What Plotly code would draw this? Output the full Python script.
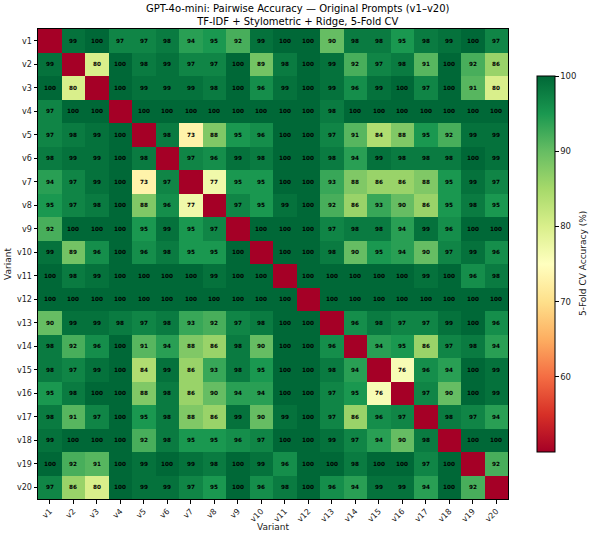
import plotly.graph_objects as go

variants = [f"v{i}" for i in range(1, 21)]

# Pairwise 5-fold CV accuracy (%), diagonal = None
acc = [
    [None, 99, 100, 97, 97, 98, 94, 95, 92, 99, 100, 100, 90, 98, 98, 95, 98, 99, 100, 97],
    [99, None, 80, 100, 98, 99, 97, 97, 100, 89, 98, 100, 99, 92, 97, 98, 91, 100, 92, 86],
    [100, 80, None, 100, 99, 99, 99, 98, 100, 96, 99, 100, 99, 96, 99, 100, 97, 100, 91, 80],
    [97, 100, 100, None, 100, 100, 100, 100, 100, 100, 100, 100, 98, 100, 100, 100, 100, 100, 100, 100],
    [97, 98, 99, 100, None, 98, 73, 88, 95, 96, 100, 100, 97, 91, 84, 88, 95, 92, 99, 99],
    [98, 99, 99, 100, 98, None, 97, 96, 99, 98, 100, 100, 98, 94, 99, 98, 98, 98, 100, 99],
    [94, 97, 99, 100, 73, 97, None, 77, 95, 95, 100, 100, 93, 88, 86, 86, 88, 95, 99, 97],
    [95, 97, 98, 100, 88, 96, 77, None, 97, 95, 99, 100, 92, 86, 93, 90, 86, 95, 98, 95],
    [92, 100, 100, 100, 95, 99, 95, 97, None, 100, 100, 100, 97, 98, 98, 94, 99, 96, 100, 100],
    [99, 89, 96, 100, 96, 98, 95, 95, 100, None, 100, 100, 98, 90, 95, 94, 90, 97, 99, 96],
    [100, 98, 99, 100, 100, 100, 100, 99, 100, 100, None, 100, 100, 100, 100, 100, 99, 100, 96, 98],
    [100, 100, 100, 100, 100, 100, 100, 100, 100, 100, 100, None, 100, 100, 100, 100, 100, 100, 100, 100],
    [90, 99, 99, 98, 97, 98, 93, 92, 97, 98, 100, 100, None, 96, 98, 97, 97, 99, 100, 96],
    [98, 92, 96, 100, 91, 94, 88, 86, 98, 90, 100, 100, 96, None, 94, 95, 86, 97, 98, 94],
    [98, 97, 99, 100, 84, 99, 86, 93, 98, 95, 100, 100, 98, 94, None, 76, 96, 94, 100, 99],
    [95, 98, 100, 100, 88, 98, 86, 90, 94, 94, 100, 100, 97, 95, 76, None, 97, 90, 100, 99],
    [98, 91, 97, 100, 95, 98, 88, 86, 99, 90, 99, 100, 97, 86, 96, 97, None, 98, 97, 94],
    [99, 100, 100, 100, 92, 98, 95, 95, 96, 97, 100, 100, 99, 97, 94, 90, 98, None, 100, 100],
    [100, 92, 91, 100, 99, 100, 99, 98, 100, 99, 96, 100, 100, 98, 100, 100, 97, 100, None, 92],
    [97, 86, 80, 100, 99, 99, 97, 95, 100, 96, 98, 100, 96, 94, 99, 99, 94, 100, 92, None],
]

cb_ticks = [60, 70, 80, 90, 100]
ZMIN, ZMAX = 50, 100

rdylgn = ['rgb(165,0,38)', 'rgb(215,48,39)', 'rgb(244,109,67)', 'rgb(253,174,97)',
          'rgb(254,224,139)', 'rgb(255,255,191)', 'rgb(217,239,139)', 'rgb(166,217,106)',
          'rgb(102,189,99)', 'rgb(26,152,80)', 'rgb(0,104,55)']
cscale = [[i / 10, c] for i, c in enumerate(rdylgn)]

z = [[ZMIN if v is None else v for v in row] for row in acc]
txt = [["" if v is None else f"<b>{v:.0f}</b>" for v in row] for row in acc]

FONT = "DejaVu Sans"

fig = go.Figure(go.Heatmap(
    z=z, x=variants, y=variants, text=txt, texttemplate="%{text}",
    textfont=dict(size=5.7, color="black", family=FONT),
    colorscale=cscale, zmin=ZMIN, zmax=ZMAX,
    colorbar=dict(
        x=1.0617, xanchor="left", xpad=0, y=(499 - 264) / 470, yanchor="middle",
        ypad=0, len=376 / 470, lenmode="fraction", thickness=18,
        outlinecolor="black", outlinewidth=1,
        tickvals=cb_ticks, ticks="outside", ticklen=3.5, tickcolor="black",
        tickfont=dict(size=8.5, family=FONT, color="#222"),
    ),
    hoverongaps=False,
))

fig.update_layout(
    width=595, height=537,
    margin=dict(l=38, r=87, t=29, b=38),
    paper_bgcolor="white", plot_bgcolor="white",
    font=dict(family=FONT, color="black"),
    showlegend=False,
    annotations=[
        dict(text="GPT-4o-mini: Pairwise Accuracy — Original Prompts (v1–v20)<br>TF-IDF + Stylometric + Ridge, 5-Fold CV",
             xref="paper", yref="paper", x=(297.5 - 38) / 470, y=1 + (29 - 1) / 470,
             xanchor="center", yanchor="top", showarrow=False,
             font=dict(size=10, family=FONT, color="black")),
        dict(text="5-Fold CV Accuracy (%)", xref="paper", yref="paper",
             x=(583 - 38) / 470, y=(499 - 264) / 470, textangle=-90,
             xanchor="center", yanchor="middle", showarrow=False,
             font=dict(size=9, family=FONT, color="#222")),
        dict(text="Variant", xref="paper", yref="paper",
             x=0.5, y=-(527 - 499) / 470, xanchor="center", yanchor="middle",
             showarrow=False, font=dict(size=9, family=FONT, color="#222")),
        dict(text="Variant", xref="paper", yref="paper",
             x=-(38 - 8) / 470, y=0.5, textangle=-90, xanchor="center", yanchor="middle",
             showarrow=False, font=dict(size=9, family=FONT, color="#222")),
    ],
)

fig.update_xaxes(
    tickangle=-45, ticks="outside", ticklen=3.5, tickcolor="black",
    tickfont=dict(size=8, family=FONT, color="#222"),
    showline=True, linecolor="black", linewidth=1, mirror=True,
    showgrid=False, zeroline=False,
)
fig.update_yaxes(
    autorange="reversed", ticks="outside", ticklen=3.5, tickcolor="black",
    tickfont=dict(size=8, family=FONT, color="#222"),
    showline=True, linecolor="black", linewidth=1, mirror=True,
    showgrid=False, zeroline=False,
)

fig.write_html("out.html")
